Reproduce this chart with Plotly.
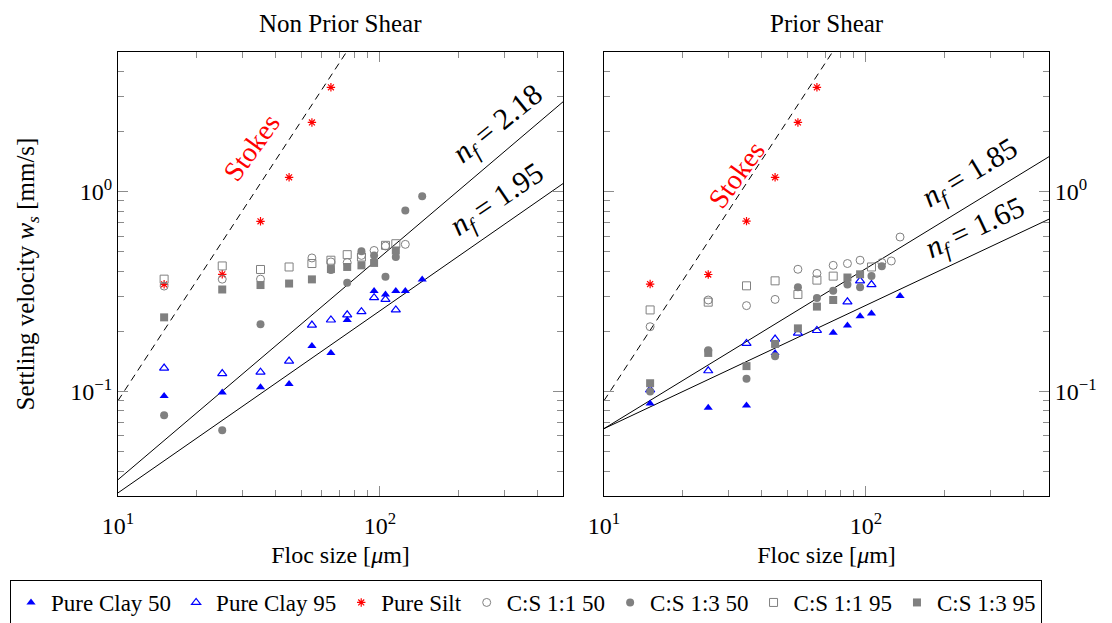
import numpy as np
import plotly.graph_objects as go

# ---------------- data ----------------
# Non Prior Shear (left panel)
np_clay50_x = [15, 25, 35, 45, 55, 65, 75, 95, 105, 115, 125, 145]
np_clay50_y = [0.095, 0.099, 0.105, 0.109, 0.169, 0.156, 0.228, 0.318, 0.306, 0.318, 0.318, 0.364]
np_clay95_x = [15, 25, 35, 45, 55, 65, 75, 85, 95, 105, 115]
np_clay95_y = [0.131, 0.123, 0.125, 0.142, 0.215, 0.228, 0.242, 0.251, 0.295, 0.289, 0.256]
silt_x = [15, 25, 35, 45, 55, 65]
np_silt_y = [0.344, 0.386, 0.711, 1.18, 2.22, 3.33]
np_cs11_50_x = [15, 25, 35, 55, 65, 75, 85, 95, 105, 125]
np_cs11_50_y = [0.337, 0.365, 0.365, 0.466, 0.445, 0.442, 0.48, 0.508, 0.535, 0.545]
np_cs13_50_x = [15, 25, 35, 65, 75, 85, 95, 105, 115, 125, 145]
np_cs13_50_y = [0.076, 0.064, 0.217, 0.405, 0.350, 0.503, 0.48, 0.375, 0.471, 0.804, 0.948]
np_cs11_95_x = [15, 25, 35, 45, 55, 65, 75, 85, 105, 115]
np_cs11_95_y = [0.365, 0.425, 0.408, 0.42, 0.437, 0.454, 0.484, 0.471, 0.539, 0.549]
np_cs13_95_x = [15, 25, 35, 45, 55, 65, 75, 85, 95, 115]
np_cs13_95_y = [0.235, 0.324, 0.341, 0.347, 0.364, 0.41, 0.42, 0.428, 0.44, 0.508]

# Prior Shear (right panel)
ps_clay50_x = [15, 25, 35, 45, 75, 85, 95, 105, 135]
ps_clay50_y = [0.087, 0.083, 0.085, 0.156, 0.197, 0.214, 0.238, 0.246, 0.301]
ps_clay95_x = [15, 25, 35, 45, 55, 65, 85, 95, 105]
ps_clay95_y = [0.102, 0.127, 0.174, 0.183, 0.196, 0.202, 0.281, 0.358, 0.343]
ps_silt_y = [0.345, 0.385, 0.712, 1.18, 2.22, 3.33]
ps_cs11_50_x = [15, 25, 35, 45, 55, 65, 75, 85, 95, 115, 125, 135]
ps_cs11_50_y = [0.211, 0.287, 0.269, 0.289, 0.409, 0.39, 0.428, 0.437, 0.454, 0.442, 0.45, 0.593]
ps_cs13_50_x = [15, 25, 35, 45, 55, 65, 75, 85, 95, 105, 115]
ps_cs13_50_y = [0.100, 0.161, 0.116, 0.150, 0.332, 0.294, 0.319, 0.343, 0.332, 0.379, 0.424]
ps_cs11_95_x = [15, 25, 35, 45, 55, 65, 75, 105]
ps_cs11_95_y = [0.256, 0.280, 0.338, 0.358, 0.306, 0.361, 0.378, 0.420]
ps_cs13_95_x = [15, 25, 35, 45, 55, 65, 75, 85, 95]
ps_cs13_95_y = [0.110, 0.156, 0.134, 0.173, 0.207, 0.266, 0.287, 0.372, 0.386]

# reference lines: Stokes (w = c*D^2) and fractal fits w = w10*(D/10)^k
stokes_coef = 9.0e-4
np_nf = [2.18, 1.95]
np_w10 = [0.0362, 0.0311]
np_k = [1.113, 0.911]
ps_nf = [1.85, 1.65]
ps_w10 = [0.0652, 0.0652]
ps_k = [0.801, 0.617]

series_names = ["Pure Clay 50", "Pure Clay 95", "Pure Silt", "C:S 1:1 50",
                "C:S 1:3 50", "C:S 1:1 95", "C:S 1:3 95"]
panel_titles = ["Non Prior Shear", "Prior Shear"]
x_tickvals = [10, 100]
x_ticktext = ["10<sup>1</sup>", "10<sup>2</sup>"]
y_tickvals = [0.1, 1]
y_ticktext = ["10<sup>\u22121</sup>", "10<sup>0</sup>"]
x_range = [10, 500]
y_range = [0.03, 5]

# ---------------- styles ----------------
BLUE = "#0000ff"
RED = "#ff0000"
GRAY = "#808080"
FONT = "Liberation Serif"
styles = [
    dict(symbol="triangle-up", color=BLUE, size=8, line=dict(width=0)),
    dict(symbol="triangle-up-open", color=BLUE, size=8, line=dict(width=1.2, color=BLUE)),
    dict(symbol="asterisk-open", color=RED, size=7, line=dict(width=1.2, color=RED)),
    dict(symbol="circle-open", color=GRAY, size=8, line=dict(width=1, color=GRAY)),
    dict(symbol="circle", color=GRAY, size=8, line=dict(width=0)),
    dict(symbol="square-open", color=GRAY, size=8, line=dict(width=1, color=GRAY)),
    dict(symbol="square", color=GRAY, size=8, line=dict(width=0)),
]

panels = [
    [(np_clay50_x, np_clay50_y), (np_clay95_x, np_clay95_y), (silt_x, np_silt_y),
     (np_cs11_50_x, np_cs11_50_y), (np_cs13_50_x, np_cs13_50_y),
     (np_cs11_95_x, np_cs11_95_y), (np_cs13_95_x, np_cs13_95_y)],
    [(ps_clay50_x, ps_clay50_y), (ps_clay95_x, ps_clay95_y), (silt_x, ps_silt_y),
     (ps_cs11_50_x, ps_cs11_50_y), (ps_cs13_50_x, ps_cs13_50_y),
     (ps_cs11_95_x, ps_cs11_95_y), (ps_cs13_95_x, ps_cs13_95_y)],
]

fig = go.Figure()
D = np.logspace(np.log10(x_range[0]), np.log10(x_range[1]), 60)
axes = [("x", "y"), ("x2", "y2")]
fits = [(np_nf, np_w10, np_k), (ps_nf, ps_w10, ps_k)]

for p, (xa, ya) in enumerate(axes):
    fig.add_trace(go.Scatter(x=D, y=stokes_coef * D ** 2, mode="lines",
                             line=dict(color="black", width=1, dash="7px,5px"),
                             showlegend=False, hoverinfo="skip", xaxis=xa, yaxis=ya))
    for nf, w10, k in zip(*fits[p]):
        fig.add_trace(go.Scatter(x=D, y=w10 * (D / 10.0) ** k, mode="lines",
                                 line=dict(color="black", width=1),
                                 showlegend=False, hoverinfo="skip", xaxis=xa, yaxis=ya))
    for i, (xs, ys) in enumerate(panels[p]):
        fig.add_trace(go.Scatter(x=xs, y=ys, mode="markers", name=series_names[i],
                                 marker=styles[i], legendgroup=series_names[i],
                                 showlegend=(p == 0), xaxis=xa, yaxis=ya))

tick_common = dict(type="log", showgrid=False, zeroline=False, showline=True,
                   linecolor="black", linewidth=1, mirror="allticks", automargin=False,
                   ticks="inside", ticklen=10, tickwidth=1, tickcolor="#8c8c8c",
                   tickfont=dict(family=FONT, size=24, color="black"))
minor_x = [m * 10 ** e for e in (1, 2) for m in range(2, 10) if m * 10 ** e <= x_range[1]]
minor_y = [m * 10 ** e for e in (-2, -1, 0) for m in range(2, 10)
           if y_range[0] <= m * 10 ** e <= y_range[1]]
minor_xd = dict(ticks="inside", ticklen=6, tickwidth=1, tickcolor="#8c8c8c",
                tickmode="array", tickvals=minor_x, showgrid=False)
minor_yd = dict(ticks="inside", ticklen=6, tickwidth=1, tickcolor="#8c8c8c",
                tickmode="array", tickvals=minor_y, showgrid=False)

xtitle = dict(text="Floc size [<i>\u03bc</i>m]", font=dict(family=FONT, size=24, color="black"),
              standoff=8)
# the page adds an 8px body margin, so figure coordinates = screen - 8
OFF = 8
W, H = 1112 - OFF, 623 - OFF
L, R = 118 - OFF, 1049 - OFF
T, B = 52 - OFF, 496 - OFF
pw = R - L
ph = B - T
left_dom = [0, (563 - OFF - L) / pw]
right_dom = [(604 - OFF - L) / pw, 1]

fig.update_layout(
    width=W, height=H,
    margin=dict(l=L, r=W - R, t=T, b=H - B, pad=0, autoexpand=False),
    paper_bgcolor="white", plot_bgcolor="white",
    font=dict(family=FONT, color="black"),
    xaxis=dict(domain=left_dom, range=list(np.log10(x_range)), tickvals=x_tickvals,
               ticktext=x_ticktext, minor=minor_xd, anchor="y", title=xtitle,
               ticklabelstandoff=8, **tick_common),
    yaxis=dict(domain=[0, 1], range=list(np.log10(y_range)), tickvals=y_tickvals,
               ticktext=y_ticktext, minor=minor_yd, anchor="x",
               title=dict(text="Settling velocity <i>w<sub>s</sub></i> [mm/s]",
                          font=dict(family=FONT, size=25, color="black"), standoff=28),
               **tick_common),
    xaxis2=dict(domain=right_dom, range=list(np.log10(x_range)), tickvals=x_tickvals,
                ticktext=x_ticktext, minor=minor_xd, anchor="y2", title=xtitle,
                ticklabelstandoff=8, **tick_common),
    yaxis2=dict(domain=[0, 1], range=list(np.log10(y_range)), tickvals=y_tickvals,
                ticktext=y_ticktext, minor=minor_yd, anchor="x2", side="right",
                **tick_common),
    legend=dict(orientation="h", x=(10 - OFF - L) / pw, xanchor="left",
                y=(B - (580 - OFF)) / ph, yanchor="top",
                bordercolor="black", borderwidth=1, bgcolor="white",
                font=dict(family=FONT, size=23, color="black"),
                itemwidth=30, tracegroupgap=0, traceorder="normal"),
    showlegend=True,
)

for p, dom in enumerate([left_dom, right_dom]):
    fig.add_annotation(text=panel_titles[p], xref="paper", yref="paper",
                       x=(dom[0] + dom[1]) / 2, y=(B - 0.5) / ph,
                       xanchor="center", yanchor="top", showarrow=False,
                       font=dict(family=FONT, size=25, color="black"))

label_pos = [
    [("Stokes", 32.3, 1.67, -54, RED),
     ("<i>n<sub>f</sub></i> = 2.18", 283, 2.15, -39, "black"),
     ("<i>n<sub>f</sub></i> = 1.95", 280, 0.90, -34, "black")],
    [("Stokes", 32.1, 1.22, -54, RED),
     ("<i>n<sub>f</sub></i> = 1.85", 251, 1.22, -31, "black"),
     ("<i>n<sub>f</sub></i> = 1.65", 263, 0.647, -25, "black")],
]
for p, (xa, ya) in enumerate(axes):
    for txt, lx, ly, ang, col in label_pos[p]:
        fig.add_annotation(text=txt, x=np.log10(lx), y=np.log10(ly), xref=xa, yref=ya,
                           showarrow=False, textangle=ang,
                           font=dict(family=FONT, size=28 if txt == "Stokes" else 30, color=col))

fig.write_html("out.html")
